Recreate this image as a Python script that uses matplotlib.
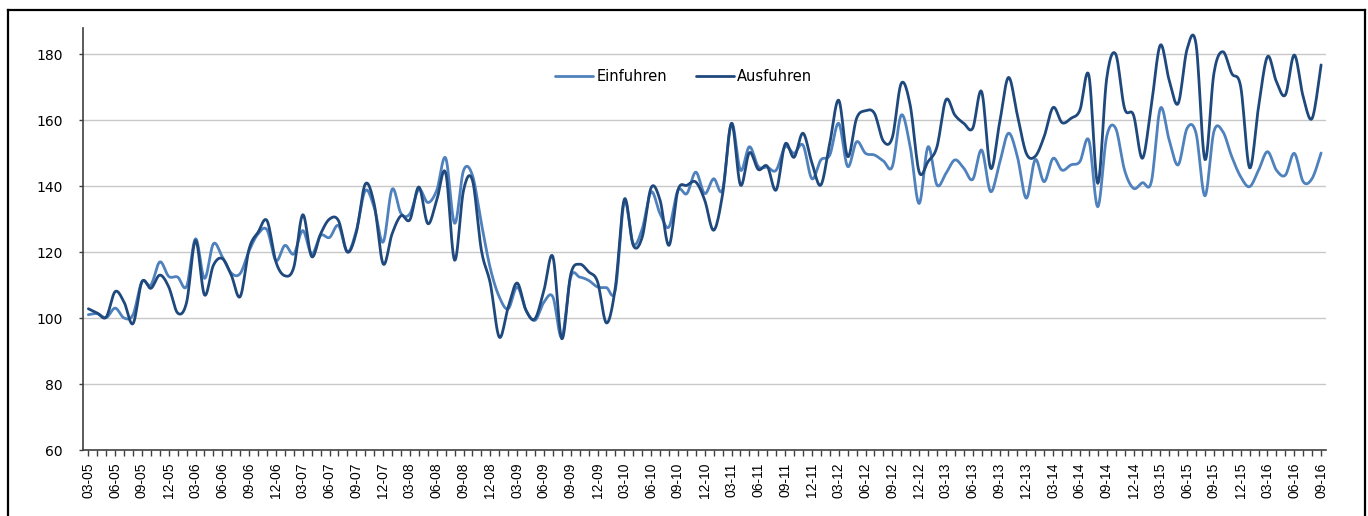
import numpy as np
import matplotlib
matplotlib.use("Agg")
import matplotlib.pyplot as plt
from matplotlib.lines import Line2D

# ---- data (monthly index, 2005-03 .. 2016-09) ----
tick_labels = []
for y in range(2005, 2017):
    for m in (3, 6, 9, 12):
        if (y == 2016 and m > 9):
            continue
        tick_labels.append(f"{m:02d}-{y % 100:02d}")

einfuhren = [
    101, 101.3, 100.1, 103, 100, 101, 111, 110, 117, 112.6, 112.4, 109.6,
    124, 112, 122.5, 118.5, 113.6, 113.5, 120.4, 125.5, 126.7, 117.4, 122, 119.4,
    126.5, 119.4, 125, 124.4, 128, 120, 126.5, 138.6, 133.5, 123, 139, 131.7,
    131.6, 139, 135, 138.7, 148.5, 128.7, 144.7, 143.2, 128.6, 115, 106.4, 102.8,
    109.4, 102.3, 99.3, 104.8, 106.4, 94.2, 112.4, 112.4, 111.4, 109.4, 109.2, 108.6,
    135.2, 122.5, 127, 138.2, 131.6, 127.6, 138.7, 137.7, 144.2, 137.7, 142.2, 138.9,
    159, 144.8, 151.9, 145.9, 145.7, 144.8, 151.9, 149.9, 152.4, 142.2, 147.9, 149.4,
    159, 145.9, 153.4, 149.9, 149.4, 147.6, 145.9, 161.5, 151.9, 134.7, 151.9, 140.3,
    143.8, 147.9, 145.4, 142, 150.9, 138.3, 146.9, 156, 148.9, 136.3, 148, 141.3,
    148.4, 144.8, 146.4, 147.4, 153.9, 133.7, 155, 157.5, 144.8, 139.3, 141, 141.3,
    163.5, 153.9, 146.4, 157.5, 156, 137, 156.5, 156.5, 148.9, 142.8, 139.8, 144.8,
    150.4, 144.8, 143.3, 149.9, 141.3, 142.3, 150,
]

ausfuhren = [
    102.8, 101.5, 100.3, 108, 104.8, 98.3, 111, 109, 113, 109.4, 101.5, 104.8,
    123.5, 107, 116, 118, 113, 106.5, 121, 126, 129.5, 117, 112.8, 115.4,
    131.3, 118.6, 125.5, 130, 129.5, 120, 126, 140.6, 134.5, 116.4, 125.5, 131,
    129.8, 139.7, 128.6, 135.7, 144, 117.5, 138.7, 141.7, 120.5, 110.4, 94.2, 103.3,
    110.6, 102.3, 99.8, 108.4, 118.6, 93.7, 113.2, 116.3, 114, 111, 98.5, 109.4,
    136, 122, 124.5, 139.5, 135.7, 122, 138.7, 140.2, 141.2, 135.7, 126.6, 137.5,
    159, 140.3, 150.1, 145, 146, 138.8, 152.7, 148.7, 156, 147, 140.3, 153,
    166, 148.9, 160.5, 162.8, 162, 153.6, 154.7, 171.1, 164.5, 144.3, 147.4, 151.9,
    166.1, 161.5, 159, 157.5, 168.6, 145.4, 159, 172.9, 161.5, 149.9, 149, 155,
    163.8, 159.2, 160.5, 163, 173.6, 140.8, 172.6, 180, 163.5, 161.5, 148.4, 164.5,
    182.7, 172, 165, 181.5, 183, 148, 174.1, 180.7, 174.1, 170.1, 145.5, 164,
    179.2, 171.6, 167.6, 179.7, 167, 160.5, 176.7,
]

series_names = ["Einfuhren", "Ausfuhren"]
colors = ["#4F81BD", "#1F497D"]


def smooth(yvals, n=12):
    """Catmull-Rom (Excel-style smoothed line) through the data points."""
    y = np.asarray(yvals, float)
    x = np.arange(len(y), dtype=float)
    xp = np.concatenate([[x[0]], x, [x[-1]]])
    yp = np.concatenate([[y[0]], y, [y[-1]]])
    xs, ys = [], []
    t = np.linspace(0, 1, n, endpoint=False)
    for i in range(len(y) - 1):
        p0x, p1x, p2x, p3x = xp[i], xp[i + 1], xp[i + 2], xp[i + 3]
        p0y, p1y, p2y, p3y = yp[i], yp[i + 1], yp[i + 2], yp[i + 3]
        c1x = p1x + (p2x - p0x) / 6
        c1y = p1y + (p2y - p0y) / 6
        c2x = p2x - (p3x - p1x) / 6
        c2y = p2y - (p3y - p1y) / 6
        b0 = (1 - t) ** 3
        b1 = 3 * (1 - t) ** 2 * t
        b2 = 3 * (1 - t) * t ** 2
        b3 = t ** 3
        xs.append(b0 * p1x + b1 * c1x + b2 * c2x + b3 * p2x)
        ys.append(b0 * p1y + b1 * c1y + b2 * c2y + b3 * p2y)
    xs.append([x[-1]])
    ys.append([y[-1]])
    return np.concatenate(xs), np.concatenate(ys)


fig = plt.figure(figsize=(13.68, 5.16), dpi=100)
ax = fig.add_axes([0.061, 0.1279, 0.9083, 0.8186])

for name, vals, c in zip(series_names, [einfuhren, ausfuhren], colors):
    xs, ys = smooth(vals)
    ax.plot(xs, ys, color=c, lw=2.0, label=name, solid_capstyle="round")

n = len(einfuhren)
ax.set_xlim(-0.55, n - 1 + 0.55)
ax.set_ylim(60, 188)
ax.set_yticks(np.arange(60, 181, 20))
ax.set_xticks(np.arange(0, n, 3))
ax.set_xticklabels(tick_labels, rotation=90, family="Liberation Sans", fontsize=10)
ax.set_xticks(np.arange(0, n, 1), minor=True)
for lab in ax.get_yticklabels():
    lab.set_family("DejaVu Sans")
    lab.set_fontsize(10)

ax.tick_params(axis="x", which="both", direction="out", length=4, width=1,
               color="#404040", pad=5)
ax.tick_params(axis="y", direction="out", length=3, width=1, color="#404040",
               pad=12)
ax.grid(axis="y", color="#C8C8C8", lw=1.0)
ax.set_axisbelow(True)
for s in ("top", "right"):
    ax.spines[s].set_visible(False)
for s in ("left", "bottom"):
    ax.spines[s].set_color("#404040")
    ax.spines[s].set_linewidth(1.2)

leg = ax.legend(loc="center", bbox_to_anchor=(0.483, 0.885), ncol=2,
                frameon=False, prop={"family": "DejaVu Sans", "size": 10.5},
                handlelength=2.6, handletextpad=0.2, columnspacing=2.0)
for h in leg.get_lines():
    h.set_linewidth(2.0)

# outer frame of the chart area
fx0, fx1, fy1 = 7.5 / 1368, 1365 / 1368, 1 - 9.5 / 516
fig.add_artist(Line2D([fx0, fx0], [0, fy1], transform=fig.transFigure, color="black", lw=1.6))
fig.add_artist(Line2D([fx0, fx1], [fy1, fy1], transform=fig.transFigure, color="black", lw=1.6))
fig.add_artist(Line2D([fx1, fx1], [0, fy1], transform=fig.transFigure, color="black", lw=1.6))

fig.savefig("out.png", dpi=100)
